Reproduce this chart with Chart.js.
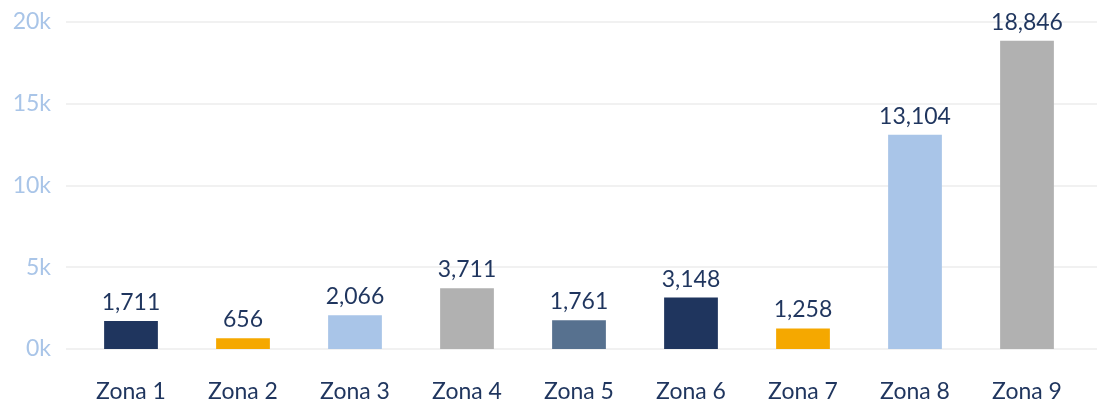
<!DOCTYPE html>
<html>
<head>
<meta charset="utf-8">
<script src="https://cdn.jsdelivr.net/npm/chart.js@4.4.1/dist/chart.umd.min.js"></script>
<style>
  html, body { margin: 0; padding: 0; background: #fff; }
  #wrap { width: 1098px; height: 405px; }
</style>
</head>
<body>
<div id="wrap"><canvas id="zonas"></canvas></div>
<script>
// ── DATA ───────────────────────────────────────
const zonas   = ['Zona 1', 'Zona 2', 'Zona 3', 'Zona 4', 'Zona 5', 'Zona 6', 'Zona 7', 'Zona 8', 'Zona 9'];
const valores = [1711, 656, 2066, 3711, 1761, 3148, 1258, 13104, 18846];
const colores = ['#1f355e', '#f5a800', '#a9c5e8', '#b1b1b1', '#57718f', '#1f355e', '#f5a800', '#a9c5e8', '#b1b1b1'];

const NAVY = '#1f355e';
const TICK_BLUE = '#a9c5e8';
const FONT = 'Lato';

// ── PLUGINS ────────────────────────────────────
// horizontal grid, a bit wider than the plot area
const gridLines = {
  id: 'gridLines',
  beforeDatasetsDraw(chart) {
    const { ctx, chartArea, scales } = chart;
    ctx.save();
    ctx.strokeStyle = '#f1f1f1';
    ctx.lineWidth = 2;
    scales.y.ticks.forEach(t => {
      const y = Math.round(scales.y.getPixelForValue(t.value));
      ctx.beginPath();
      ctx.moveTo(chartArea.left - 9, y);
      ctx.lineTo(chartArea.right + 14, y);
      ctx.stroke();
    });
    ctx.restore();
  }
};

// value labels over each bar
const barLabels = {
  id: 'barLabels',
  afterDatasetsDraw(chart) {
    const { ctx } = chart;
    const meta = chart.getDatasetMeta(0);
    ctx.save();
    ctx.fillStyle = NAVY;
    ctx.font = `23px ${FONT}`;
    ctx.textAlign = 'center';
    ctx.textBaseline = 'alphabetic';
    meta.data.forEach((bar, i) => {
      ctx.fillText(valores[i].toLocaleString('en-US'), bar.x, bar.y - 11);
    });
    ctx.restore();
  }
};

// ── CHART ──────────────────────────────────────
new Chart(document.getElementById('zonas'), {
  type: 'bar',
  data: {
    labels: zonas,
    datasets: [{
      data: valores,
      backgroundColor: colores,
      borderWidth: 0,
      categoryPercentage: 1,
      barPercentage: 0.48
    }]
  },
  plugins: [gridLines, barLabels],
  options: {
    responsive: true,
    maintainAspectRatio: false,
    animation: false,
    layout: { padding: { top: 22, right: 15, left: 0, bottom: 0 } },
    plugins: {
      legend: { display: false },
      tooltip: { enabled: false }
    },
    scales: {
      x: {
        grid: { display: false, drawTicks: false },
        border: { display: false },
        ticks: {
          color: NAVY,
          padding: 29,
          font: { family: FONT, size: 23 }
        },
        afterFit(scale) { scale.height = 56; }
      },
      y: {
        min: 0,
        max: 20000,
        grid: { display: false, drawTicks: false },
        border: { display: false },
        ticks: {
          stepSize: 5000,
          color: TICK_BLUE,
          padding: 24,
          font: { family: FONT, size: 23 },
          callback: v => (v / 1000) + 'k'
        },
        afterFit(scale) {
          scale.width = 75;
          scale.paddingTop = 0;
          scale.paddingBottom = 0;
        }
      }
    }
  }
});
</script>
</body>
</html>
